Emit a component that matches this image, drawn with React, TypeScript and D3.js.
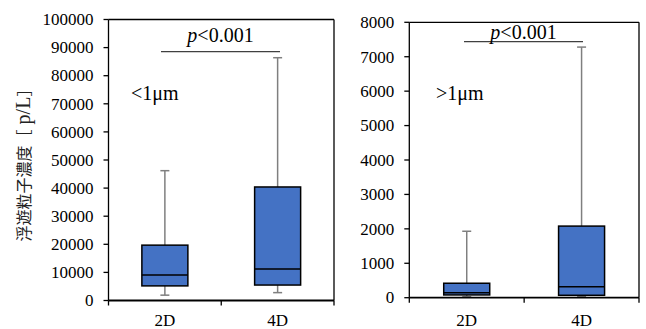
import * as d3 from 'd3'

// categories and box statistics
const categories = ['2D', '4D']

// < 1 µm panel
const smallLow = [1900, 2800]
const smallQ1 = [5200, 5500]
const smallMedian = [9100, 11200]
const smallQ3 = [19700, 40400]
const smallHigh = [46200, 86400]
const smallTicks = d3.range(0, 100001, 10000)

// > 1 µm panel
const largeLow = [30, 30]
const largeQ1 = [80, 70]
const largeMedian = [145, 320]
const largeQ3 = [420, 2080]
const largeHigh = [1930, 7280]
const largeTicks = d3.range(0, 8001, 1000)

const serif = { fontFamily: "'Liberation Serif', 'Times New Roman', 'DejaVu Serif', serif" }
const jpFont = { fontFamily: "'Noto Sans CJK JP', sans-serif" }

interface PanelProps {
  left: number
  right: number
  top: number
  bottom: number
  ticks: number[]
  low: number[]
  q1: number[]
  median: number[]
  q3: number[]
  high: number[]
  label: string
  labelX: number
  sigY: number
  sigFrom: number
  sigTo: number
  sigTextY: number
}

function Panel(p: PanelProps) {
  const x = d3.scaleBand<string>().domain(categories).range([p.left, p.right])
  const y = d3.scaleLinear().domain([0, d3.max(p.ticks)!]).range([p.bottom, p.top])
  const boxW = 46
  const capW = 9
  const bounds = [p.left, ...categories.map(c => x(c)! + x.bandwidth())]

  return (
    <g>
      {/* whiskers */}
      {categories.map((c, i) => {
        const cx = x(c)! + x.bandwidth() / 2
        return (
          <g key={'w' + c} stroke="#7f7f7f" strokeWidth={1.5}>
            <line x1={cx} x2={cx} y1={y(p.high[i])} y2={y(p.q3[i])} />
            <line x1={cx} x2={cx} y1={y(p.low[i])} y2={y(p.q1[i])} />
            <line x1={cx - capW / 2} x2={cx + capW / 2} y1={y(p.high[i])} y2={y(p.high[i])} />
            <line x1={cx - capW / 2} x2={cx + capW / 2} y1={y(p.low[i])} y2={y(p.low[i])} />
          </g>
        )
      })}
      {/* boxes */}
      {categories.map((c, i) => {
        const cx = x(c)! + x.bandwidth() / 2
        return (
          <g key={'b' + c}>
            <rect x={cx - boxW / 2} width={boxW} y={y(p.q3[i])} height={y(p.q1[i]) - y(p.q3[i])}
              fill="#4472c4" stroke="#000" strokeWidth={1.5} />
            <line x1={cx - boxW / 2} x2={cx + boxW / 2} y1={y(p.median[i])} y2={y(p.median[i])}
              stroke="#000" strokeWidth={1.5} />
          </g>
        )
      })}
      {/* frame */}
      <line x1={p.left} x2={p.right} y1={p.top} y2={p.top} stroke="#000" strokeWidth={1.3} />
      <line x1={p.right} x2={p.right} y1={p.top} y2={p.bottom} stroke="#000" strokeWidth={1.3} />
      <line x1={p.left} x2={p.left} y1={p.top} y2={p.bottom} stroke="#000" strokeWidth={1.3} />
      <line x1={p.left} x2={p.right} y1={p.bottom} y2={p.bottom} stroke="#000" strokeWidth={1.8} />
      {/* y ticks */}
      {p.ticks.map(t => (
        <g key={'t' + t}>
          <line x1={p.left - 5} x2={p.left} y1={y(t)} y2={y(t)} stroke="#000" strokeWidth={1.3} />
          <text x={p.left - 15} y={y(t)} dy="0.34em" textAnchor="end" fontSize={17}
            style={serif} fill="#000">{t}</text>
        </g>
      ))}
      {/* x ticks between categories */}
      {bounds.map((b, i) => (
        <line key={'xb' + i} x1={b} x2={b} y1={p.bottom} y2={p.bottom + 5} stroke="#000" strokeWidth={1.3} />
      ))}
      {categories.map(c => (
        <text key={'xl' + c} x={x(c)! + x.bandwidth() / 2} y={326} textAnchor="middle" fontSize={17}
          style={serif} fill="#000">{c}</text>
      ))}
      {/* significance */}
      <line x1={p.sigFrom} x2={p.sigTo} y1={p.sigY} y2={p.sigY} stroke="#404040" strokeWidth={1.3} />
      <text x={(p.sigFrom + p.sigTo) / 2} y={p.sigTextY} textAnchor="middle" fontSize={20}
        style={serif} fill="#000">
        <tspan fontStyle="italic">p</tspan>&lt;0.001
      </text>
      <text x={p.labelX} y={100} fontSize={20} style={serif} fill="#000">{p.label}</text>
    </g>
  )
}

export default function App() {
  return (
    <svg width={646} height={329} style={{ position: 'absolute', left: 0, top: 0, background: '#fff' }}>
      <rect width={646} height={329} fill="#fff" />
      <Panel left={108.5} right={334} top={19.5} bottom={300.5} ticks={smallTicks}
        low={smallLow} q1={smallQ1} median={smallMedian} q3={smallQ3} high={smallHigh}
        label="<1μm" labelX={131} sigY={51.7} sigFrom={161} sigTo={280} sigTextY={42} />
      <Panel left={409.3} right={639} top={22.3} bottom={297.7} ticks={largeTicks}
        low={largeLow} q1={largeQ1} median={largeMedian} q3={largeQ3} high={largeHigh}
        label=">1μm" labelX={436} sigY={41.7} sigFrom={464} sigTo={583} sigTextY={39} />
      <text transform="translate(29.5,161) rotate(-90)" textAnchor="middle" fill="#222">
        <tspan fontSize={16} style={jpFont}>浮遊粒子濃度［</tspan>
        <tspan fontSize={20} style={serif}> p/L</tspan>
        <tspan fontSize={16} style={jpFont}>］</tspan>
      </text>
    </svg>
  )
}
